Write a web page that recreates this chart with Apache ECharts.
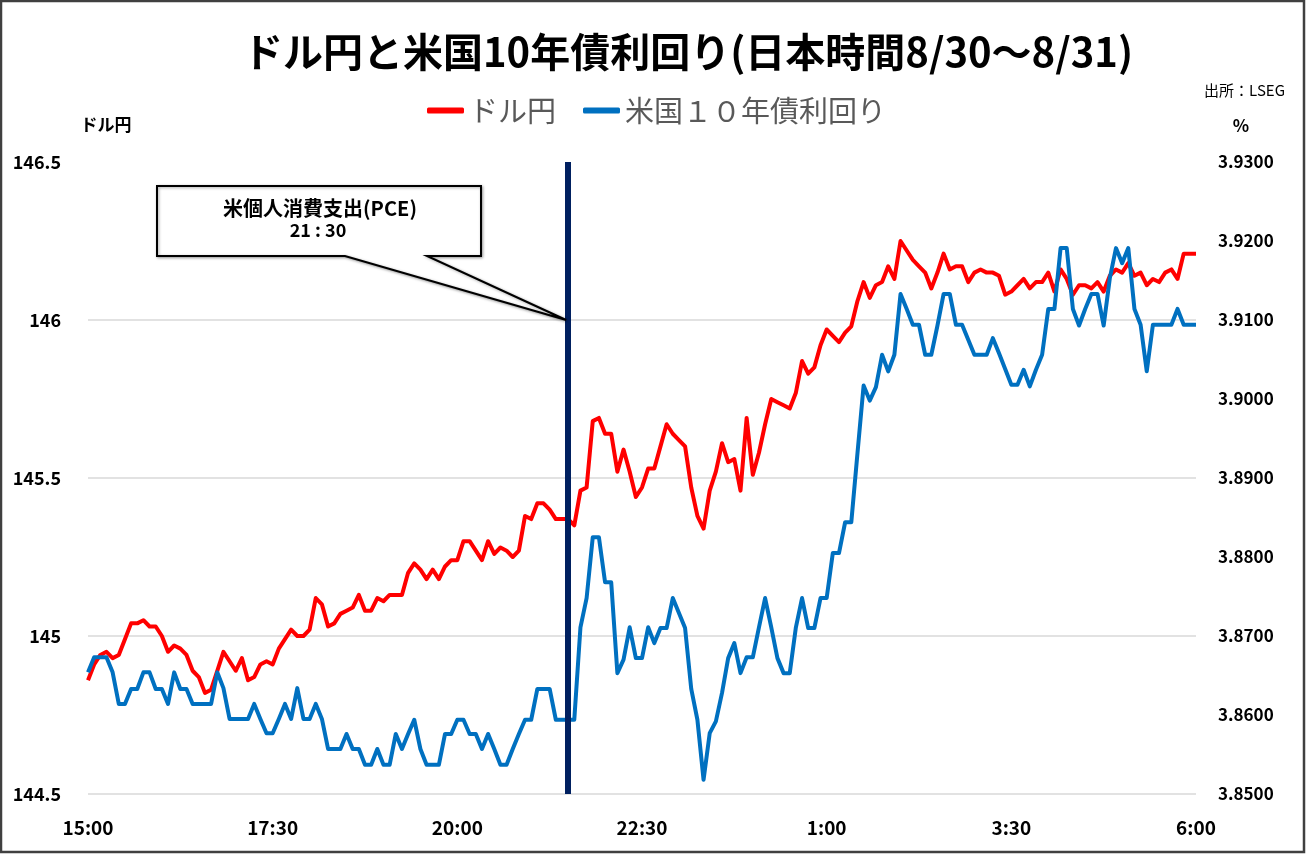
<!DOCTYPE html>
<html>
<head>
<meta charset="utf-8">
<script src="https://cdn.jsdelivr.net/npm/echarts@6/dist/echarts.min.js"></script>
<style>
html,body{margin:0;padding:0;background:#fff;}
#chart{width:1306px;height:854px;}
</style>
</head>
<body>
<div id="chart"></div>
<script>
// ---- data (5-minute samples, 15:00 JST 8/30 -> 6:00 JST 8/31) ----
const START_LABEL = '15:00';
const STEP_MIN = 5;
const X_TICK_LABELS = ['15:00', '17:30', '20:00', '22:30', '1:00', '3:30', '6:00'];
const PCE_MINUTE = 390; // 21:30
const SERIES_NAMES = ['ドル円', '米国１０年債利回り'];

const usdJpy = [
  144.86,144.91,144.94,144.95,144.93,144.94,144.99,145.04,145.04,145.05,145.03,145.03,
  145.00,144.95,144.97,144.96,144.94,144.89,144.87,144.82,144.83,144.89,144.95,144.92,
  144.89,144.93,144.86,144.87,144.91,144.92,144.91,144.96,144.99,145.02,145.00,145.00,
  145.02,145.12,145.10,145.03,145.04,145.07,145.08,145.09,145.13,145.08,145.08,145.12,
  145.11,145.13,145.13,145.13,145.20,145.23,145.21,145.18,145.21,145.18,145.22,145.24,
  145.24,145.30,145.30,145.27,145.24,145.30,145.26,145.28,145.27,145.25,145.27,145.38,
  145.37,145.42,145.42,145.40,145.37,145.37,145.37,145.35,145.46,145.47,145.68,145.69,
  145.64,145.64,145.52,145.59,145.52,145.44,145.47,145.53,145.53,145.60,145.67,145.64,
  145.62,145.60,145.47,145.38,145.34,145.46,145.52,145.61,145.55,145.56,145.46,145.69,
  145.51,145.58,145.67,145.75,145.74,145.73,145.72,145.77,145.87,145.83,145.85,145.92,
  145.97,145.95,145.93,145.96,145.98,146.06,146.12,146.07,146.11,146.12,146.17,146.13,
  146.25,146.22,146.19,146.17,146.15,146.10,146.15,146.21,146.16,146.17,146.17,146.12,
  146.15,146.16,146.15,146.15,146.14,146.08,146.09,146.11,146.13,146.10,146.12,146.12,
  146.15,146.09,146.16,146.13,146.08,146.11,146.11,146.10,146.12,146.09,146.14,146.16,
  146.15,146.18,146.14,146.15,146.11,146.13,146.12,146.15,146.16,146.13,146.21,146.21,
  146.21
];

const us10y = [
  3.8654,3.8673,3.8673,3.8673,3.8654,3.8614,3.8614,3.8633,3.8633,3.8654,3.8654,3.8633,
  3.8633,3.8614,3.8654,3.8633,3.8633,3.8614,3.8614,3.8614,3.8614,3.8654,3.8634,3.8595,
  3.8595,3.8595,3.8595,3.8614,3.8595,3.8577,3.8577,3.8595,3.8614,3.8595,3.8634,3.8595,
  3.8595,3.8614,3.8595,3.8557,3.8557,3.8557,3.8576,3.8557,3.8557,3.8537,3.8537,3.8557,
  3.8537,3.8537,3.8576,3.8557,3.8576,3.8594,3.8557,3.8537,3.8537,3.8537,3.8576,3.8576,
  3.8594,3.8594,3.8576,3.8576,3.8557,3.8576,3.8557,3.8537,3.8537,3.8557,3.8576,3.8594,
  3.8594,3.8633,3.8633,3.8633,3.8594,3.8594,3.8594,3.8594,3.8711,3.8748,3.8825,3.8825,
  3.8768,3.8768,3.8653,3.8670,3.8711,3.8672,3.8672,3.8711,3.8691,3.8710,3.8710,3.8748,
  3.8729,3.8710,3.8633,3.8594,3.8518,3.8577,3.8592,3.8628,3.8672,3.8691,3.8653,3.8673,
  3.8673,3.8711,3.8748,3.8711,3.8672,3.8653,3.8653,3.8711,3.8748,3.8710,3.8710,3.8748,
  3.8748,3.8805,3.8805,3.8844,3.8844,3.8931,3.9017,3.8998,3.9015,3.9056,3.9035,3.9056,
  3.9133,3.9114,3.9094,3.9094,3.9056,3.9056,3.9093,3.9133,3.9133,3.9094,3.9094,3.9075,
  3.9056,3.9056,3.9056,3.9077,3.9058,3.9038,3.9018,3.9018,3.9037,3.9016,3.9037,3.9056,
  3.9114,3.9114,3.9191,3.9191,3.9114,3.9093,3.9114,3.9133,3.9133,3.9093,3.9153,3.9191,
  3.9172,3.9191,3.9114,3.9094,3.9035,3.9094,3.9094,3.9094,3.9094,3.9114,3.9094,3.9094,
  3.9094
];

const FONT = '"Noto Sans CJK JP", "Noto Sans", sans-serif';
const chart = echarts.init(document.getElementById('chart'), null, {renderer: 'canvas'});

const redData = usdJpy.map((v, i) => [i * STEP_MIN, v]);
const blueData = us10y.map((v, i) => [i * STEP_MIN, v]);

const option = {
  animation: false,
  backgroundColor: '#ffffff',
  textStyle: {fontFamily: FONT},
  legend: {
    data: SERIES_NAMES,
    left: 422,
    top: 91,
    icon: 'roundRect',
    itemWidth: 37,
    itemHeight: 6,
    itemGap: 27,
    textStyle: {fontSize: 29, color: '#595959', fontFamily: FONT}
  },
  grid: {left: 88, right: 110, top: 162, bottom: 60},
  xAxis: {
    type: 'value',
    min: 0, max: 900, interval: 150,
    axisLine: {show: false},
    axisTick: {show: false},
    splitLine: {show: false},
    axisLabel: {
      formatter: v => X_TICK_LABELS[Math.round(v / 150)],
      fontSize: 19, fontWeight: 'bold', color: '#000', margin: 24, fontFamily: FONT
    }
  },
  yAxis: [
    {
      type: 'value',
      min: 144.5, max: 146.5, interval: 0.5,
      axisLine: {show: false},
      axisTick: {show: false},
      splitLine: {show: true, lineStyle: {color: ['#d9d9d9', '#d9d9d9', '#d9d9d9', '#d9d9d9', 'rgba(0,0,0,0)'], width: 1.5}},
      axisLabel: {fontSize: 18, fontWeight: 'bold', color: '#000', margin: 27, fontFamily: FONT}
    },
    {
      type: 'value',
      position: 'right',
      min: 3.85, max: 3.93, interval: 0.01,
      axisLine: {show: false},
      axisTick: {show: false},
      splitLine: {show: false},
      axisLabel: {
        formatter: v => v.toFixed(4),
        fontSize: 17, fontWeight: 'bold', color: '#000', margin: 22, fontFamily: FONT
      }
    }
  ],
  series: [
    {
      name: SERIES_NAMES[0],
      type: 'line',
      yAxisIndex: 0,
      data: redData,
      showSymbol: false,
      symbol: 'none',
      lineStyle: {color: '#ff0000', width: 4, join: 'round'},
      itemStyle: {color: '#ff0000'}
    },
    {
      name: SERIES_NAMES[1],
      type: 'line',
      yAxisIndex: 1,
      data: blueData,
      showSymbol: false,
      symbol: 'none',
      lineStyle: {color: '#0070c0', width: 4, join: 'round'},
      itemStyle: {color: '#0070c0'},
      markLine: {
        silent: true,
        symbol: 'none',
        label: {show: false},
        lineStyle: {color: '#002060', width: 6, type: 'solid'},
        data: [{xAxis: PCE_MINUTE}]
      }
    }
  ]
};
chart.setOption(option);

// callout tip anchored at the PCE time on the 146 level
const tip = chart.convertToPixel({xAxisIndex: 0, yAxisIndex: 0}, [PCE_MINUTE, 146]);

chart.setOption({
  graphic: [
    {
      type: 'rect', silent: true, z: 0,
      shape: {x: 1, y: 1, width: 1303, height: 851},
      style: {fill: 'none', stroke: '#404040', lineWidth: 2.5}
    },
    {
      type: 'text', silent: true,
      x: 688, y: 52,
      style: {
        text: 'ドル円と米国10年債利回り(日本時間8/30～8/31)',
        fontSize: 40, fontWeight: 'bold', fill: '#000', fontFamily: FONT,
        textAlign: 'center', textVerticalAlign: 'middle'
      }
    },
    {
      type: 'text', silent: true,
      x: 1285, y: 90,
      style: {text: '出所：LSEG', fontSize: 15, fill: '#000', fontFamily: FONT, textAlign: 'right', textVerticalAlign: 'middle'}
    },
    {
      type: 'text', silent: true,
      x: 106, y: 125,
      style: {text: 'ドル円', fontSize: 17, fontWeight: 'bold', fill: '#000', fontFamily: FONT, textAlign: 'center', textVerticalAlign: 'middle'}
    },
    {
      type: 'text', silent: true,
      x: 1241, y: 126,
      style: {text: '%', fontSize: 17, fontWeight: 'bold', fill: '#000', fontFamily: FONT, textAlign: 'center', textVerticalAlign: 'middle'}
    },
    {
      type: 'polygon', silent: true, z: 10,
      shape: {points: [[157, 186], [481, 186], [481, 256], [427, 256], [tip[0] - 2, tip[1]], [345, 256], [157, 256]]},
      style: {fill: '#fff', stroke: '#000', lineWidth: 2, shadowBlur: 3, shadowColor: 'rgba(0,0,0,0.35)', shadowOffsetX: 1, shadowOffsetY: 1}
    },
    {
      type: 'text', silent: true, z: 11,
      x: 320, y: 208,
      style: {text: '米個人消費支出(PCE)', fontSize: 20, fontWeight: 'bold', fill: '#000', fontFamily: FONT, textAlign: 'center', textVerticalAlign: 'middle'}
    },
    {
      type: 'text', silent: true, z: 11,
      x: 318, y: 230,
      style: {text: '21 : 30', fontSize: 18, fontWeight: 'bold', fill: '#000', fontFamily: FONT, textAlign: 'center', textVerticalAlign: 'middle'}
    }
  ]
});
</script>
</body>
</html>
